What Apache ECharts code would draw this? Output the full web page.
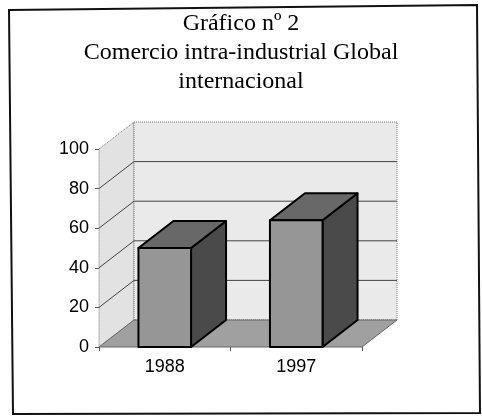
<!DOCTYPE html>
<html>
<head>
<meta charset="utf-8">
<script src="https://cdn.jsdelivr.net/npm/echarts@6/dist/echarts.min.js"></script>
<style>
	html, body { margin: 0; padding: 0; background: #fff; }
	#grafico_chart_id { width: 482px; height: 416px; }
</style>
</head>
<body>
<div id="grafico_chart_id"></div>
<script>
// datos
var categorias = ['1988', '1997'];
var valores = [50, 64];
var ticksY = [0, 20, 40, 60, 80, 100];

// profundidad del efecto 3D (px)
var DX = 35, DY = -27;

function grafico_init() {
	var myChart = echarts.init(document.getElementById('grafico_chart_id'));

	// pared, suelo y lineas de division
	function renderFondo(params, api) {
		var cs = params.coordSys;
		var x0 = cs.x, x1 = cs.x + cs.width;
		var yBot = api.coord([0, 0])[1];
		var yTop = api.coord([0, 100])[1];
		var children = [];
		// pared izquierda
		children.push({
			type: 'polygon',
			shape: { points: [[x0, yTop], [x0 + DX, yTop + DY], [x0 + DX, yBot + DY], [x0, yBot]] },
			style: { fill: '#e2e2e2', stroke: '#777', lineWidth: 1, lineDash: [1, 1] }
		});
		// pared del fondo
		children.push({
			type: 'polygon',
			shape: { points: [[x0 + DX, yTop + DY], [x1 + DX, yTop + DY], [x1 + DX, yBot + DY], [x0 + DX, yBot + DY]] },
			style: { fill: '#eaeaea', stroke: '#777', lineWidth: 1, lineDash: [1, 1] }
		});
		// lineas
		for (var i = 1; i < ticksY.length - 1; i++) {
			var y = api.coord([0, ticksY[i]])[1];
			children.push({
				type: 'polyline',
				shape: { points: [[x0, y], [x0 + DX, y + DY], [x1 + DX, y + DY]] },
				style: { fill: null, stroke: '#444', lineWidth: 1 }
			});
		}
		// suelo
		children.push({
			type: 'polygon',
			shape: { points: [[x0, yBot], [x1, yBot], [x1 + DX, yBot + DY], [x0 + DX, yBot + DY]] },
			style: { fill: '#a0a0a0', stroke: '#666', lineWidth: 1 }
		});
		return { type: 'group', children: children };
	}

	// barras con cara frontal, superior y lateral
	function renderBarra(params, api) {
		var top = api.coord([api.value(0), api.value(1)]);
		var base = api.coord([api.value(0), 0]);
		var w = api.size([1, 0])[0] * 0.4;
		var xl = top[0] - w / 2, xr = top[0] + w / 2;
		var yt = top[1], yb = base[1];
		var st = { stroke: '#000', lineWidth: 2, lineJoin: 'round' };
		return {
			type: 'group',
			children: [{
				type: 'polygon',
				shape: { points: [[xr, yt], [xr + DX, yt + DY], [xr + DX, yb + DY], [xr, yb]] },
				style: Object.assign({ fill: '#4a4a4a' }, st)
			}, {
				type: 'polygon',
				shape: { points: [[xl, yt], [xr, yt], [xr + DX, yt + DY], [xl + DX, yt + DY]] },
				style: Object.assign({ fill: '#686868' }, st)
			}, {
				type: 'rect',
				shape: { x: xl, y: yt, width: w, height: yb - yt },
				style: Object.assign({ fill: '#969696' }, st)
			}]
		};
	}

	var datos = [];
	for (var i = 0; i < categorias.length; i++) {
		datos.push([i, valores[i]]);
	}

	option = {
		animation: false,
		backgroundColor: '#fff',
		title: {
			text: 'Gráfico nº 2\nComercio intra-industrial Global\ninternacional',
			left: 'center',
			top: 4,
			textStyle: {
				fontFamily: 'Liberation Serif',
				fontSize: 24,
				fontWeight: 'normal',
				lineHeight: 29,
				color: '#000'
			}
		},
		graphic: [{
			type: 'polygon',
			shape: { points: [[9, 10], [477, 5], [480, 413], [13, 414]] },
			style: { fill: null, stroke: '#111', lineWidth: 2 },
			z: 100
		}],
		grid: {
			left: 99,
			top: 149,
			right: 120,
			bottom: 69
		},
		xAxis: {
			type: 'category',
			data: categorias,
			axisLine: { show: false },
			axisTick: { show: true, length: 4, lineStyle: { color: '#555' } },
			axisLabel: {
				margin: 11,
				fontFamily: 'Liberation Sans',
				fontSize: 18,
				color: '#000'
			}
		},
		yAxis: {
			type: 'value',
			min: 0,
			max: 100,
			interval: 20,
			splitLine: { show: false },
			axisLine: { show: true, lineStyle: { color: '#666', type: 'dotted' } },
			axisTick: { show: true, length: 4, lineStyle: { color: '#555' } },
			axisLabel: {
				margin: 10,
				fontFamily: 'Liberation Sans',
				fontSize: 18,
				color: '#000'
			}
		},
		series: [{
			type: 'custom',
			renderItem: renderFondo,
			data: [[0, 0]],
			z: 1,
			silent: true
		}, {
			type: 'custom',
			renderItem: renderBarra,
			data: datos,
			z: 5
		}]
	};

	myChart.setOption(option);
}
grafico_init();
</script>
</body>
</html>
